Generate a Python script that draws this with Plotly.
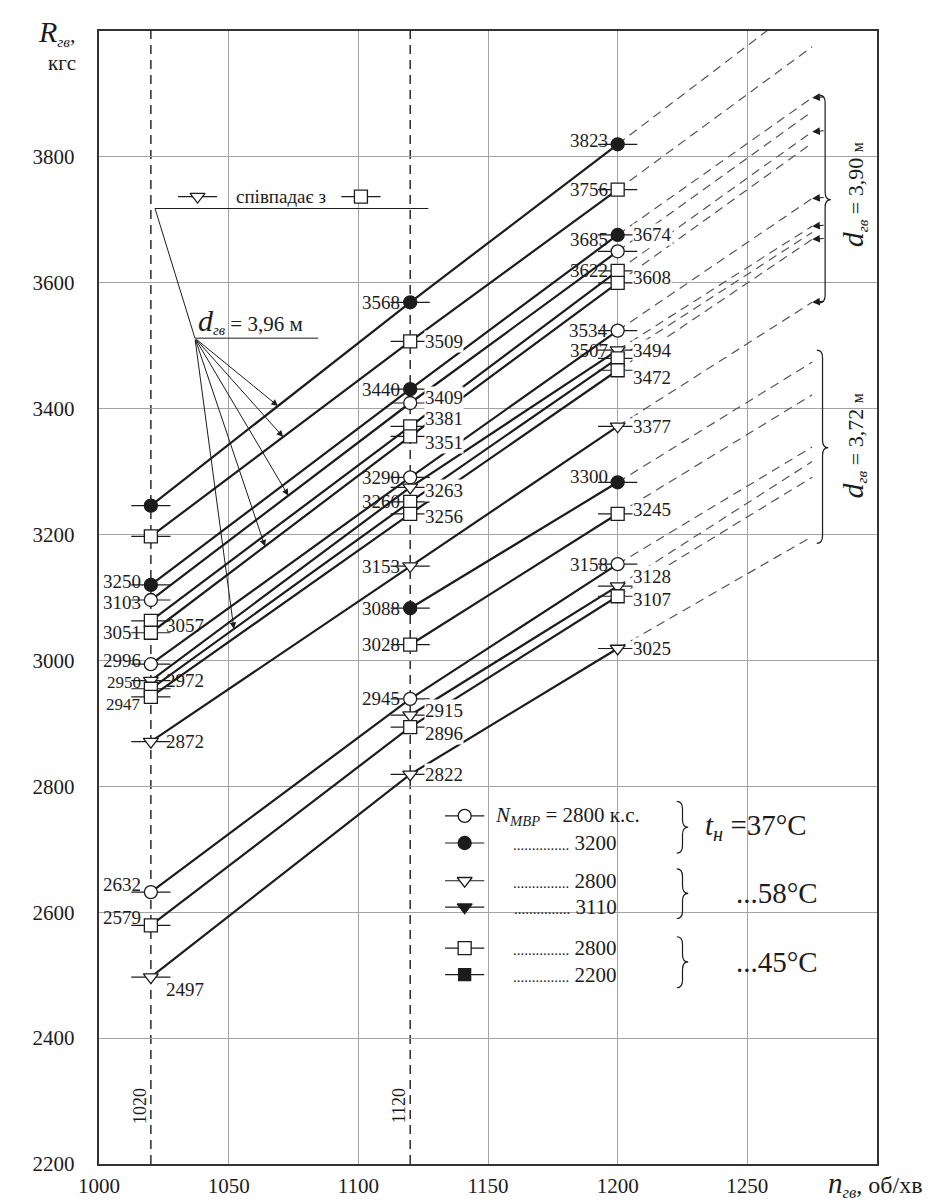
import plotly.graph_objects as go
import numpy as np

# ---------------- data ----------------
n_cols = [1020, 1120, 1200]          # rpm columns where points were measured
n_dash_end = 1275                     # end of the dashed extrapolations

# R values of each line at 1020 / 1120 / 1200 rpm (None = no point) and at dashed end
R_1020 = [3246, 3197, 3120, 3096, 3063, 3044, 2994, 2968, 2955, 2942, 2871, None, None, 2632, None, 2579, 2497]
R_1120 = [3569, 3507, 3431, 3409, 3372, 3356, 3291, 3275, 3252, 3233, 3150, 3083, 3025, 2939, 2913, 2894, 2819]
R_1200 = [3820, 3748, 3676, 3650, 3619, 3600, 3524, 3493, 3480, 3461, 3372, 3283, 3233, 3153, 3118, 3102, 3019]
R_end  = [4055, 3975, 3894, 3872, 3840, 3822, 3734, 3690, 3680, 3669, 3569, 3474, 3422, 3339, 3316, 3291, 3197]
kind   = ['fc', 'sq', 'fc', 'oc', 'sq', 'sq', 'oc', 'tr', 'sq', 'sq', 'tr', 'fc', 'sq', 'oc', 'tr', 'sq', 'tr']
group  = ['3.96', '3.96', '3.90', '3.96', '3.90', '3.96', '3.90', '3.90', '3.96', '3.90', '3.90',
          '3.72', '3.72', '3.72', '3.72', '3.72', '3.72']

lab_1020 = ['', '', '3250', '3103', '3057', '3051', '2996', '2972', '2950', '2947', '2872', '', '', '2632', '', '2579', '2497']
side_1020 = ['', '', 'L', 'L', 'R', 'L', 'L', 'R', 'L', 'L', 'R', '', '', 'L', '', 'L', 'R']
lab_1120 = ['3568', '3509', '3440', '3409', '3381', '3351', '3290', '3263', '3260', '3256', '3153', '3088', '3028',
            '2945', '2915', '2896', '2822']
side_1120 = ['L', 'R', 'L', 'R', 'R', 'R', 'L', 'R', 'L', 'R', 'L', 'L', 'L', 'L', 'R', 'R', 'R']
lab_1200 = ['3823', '3756', '3674', '3685', '3622', '3608', '3534', '3507', '3494', '3472', '3377', '3300', '3245',
            '3158', '3128', '3107', '3025']
side_1200 = ['L', 'L', 'R', 'L', 'L', 'R', 'L', 'L', 'R', 'R', 'R', 'L', 'R', 'L', 'R', 'R', 'R']

legend_kind = ['oc', 'fc', 'tr', 'ftr', 'sq', 'fsq']
legend_N = ['2800', '3200', '2800', '3110', '2800', '2200']
legend_t = ['37°C', '58°C', '45°C']

x_ticks = [1000, 1050, 1100, 1150, 1200, 1250]
y_ticks = [2200, 2400, 2600, 2800, 3000, 3200, 3400, 3600, 3800]

# ---------------- styling ----------------
SERIF = "Liberation Serif"
INK = "#1c1c1c"
LBL = 19

mstyle = {
    'oc': dict(symbol='circle', color='white', size=13, line=dict(color=INK, width=1.3)),
    'fc': dict(symbol='circle', color=INK, size=13, line=dict(color=INK, width=1.3)),
    'tr': dict(symbol='triangle-down', color='white', size=13, line=dict(color=INK, width=1.3)),
    'ftr': dict(symbol='triangle-down', color=INK, size=13, line=dict(color=INK, width=1.3)),
    'sq': dict(symbol='square', color='white', size=13, line=dict(color=INK, width=1.3)),
    'fsq': dict(symbol='square', color=INK, size=12, line=dict(color=INK, width=1.3)),
}

fig = go.Figure()

# solid lines
xs, ys = [], []
for i in range(len(R_1120)):
    for n, r in zip(n_cols, [R_1020[i], R_1120[i], R_1200[i]]):
        if r is not None:
            xs.append(n)
            ys.append(r)
    xs.append(None)
    ys.append(None)
fig.add_trace(go.Scatter(x=xs, y=ys, mode='lines', line=dict(color=INK, width=2.2),
                         hoverinfo='skip', showlegend=False))

# dashed extrapolations
xs, ys = [], []
for i in range(len(R_1200)):
    xs += [n_cols[2], n_dash_end, None]
    ys += [R_1200[i], R_end[i], None]
fig.add_trace(go.Scatter(x=xs, y=ys, mode='lines', line=dict(color='#555', width=1.2, dash='9px,6px'),
                         hoverinfo='skip', showlegend=False))

# markers with small horizontal ticks
pts = {k: ([], []) for k in mstyle}
tx, ty = [], []
for col, R in zip(n_cols, [R_1020, R_1120, R_1200]):
    for i, r in enumerate(R):
        if r is None:
            continue
        pts[kind[i]][0].append(col)
        pts[kind[i]][1].append(r)
        tx.append(col)
        ty.append(r)

# legend block points (inside plot)
leg_n = 1141
leg_R = [2753, 2710, 2650, 2608, 2543, 2501]
for k, r in zip(legend_kind, leg_R):
    pts[k][0].append(leg_n)
    pts[k][1].append(r)
    tx.append(leg_n)
    ty.append(r)
# "співпадає з" note symbols
note_R = 3737
for k, n in [('tr', 1038), ('sq', 1101)]:
    pts[k][0].append(n)
    pts[k][1].append(note_R)
    tx.append(n)
    ty.append(note_R)

fig.add_trace(go.Scatter(x=tx, y=ty, mode='markers', hoverinfo='skip', showlegend=False,
                         marker=dict(symbol='line-ew', size=28, line=dict(color=INK, width=1.2))))
for k, (px, py) in pts.items():
    if px:
        fig.add_trace(go.Scatter(x=px, y=py, mode='markers', hoverinfo='skip', showlegend=False,
                                 marker=mstyle[k]))

# value labels (small vertical nudges in px where the picture places a label off its point)
nudge = {(1200, '3685'): 12, (1200, '3494'): 8, (1200, '3472'): -7, (1200, '3128'): 10,
         (1200, '3107'): -3,
         (1200, '3300'): 6, (1200, '3608'): 5, (1200, '3823'): 4, (1200, '3245'): 4,
         (1120, '3409'): 6, (1120, '3381'): 8, (1120, '3351'): -6, (1120, '3263'): -3,
         (1120, '3256'): -3, (1120, '2915'): 5, (1120, '2896'): -6,
         (1020, '3250'): 3, (1020, '3103'): -2, (1020, '3057'): -5, (1020, '2996'): 4,
         (1020, '2950'): 6, (1020, '2947'): -8, (1020, '2632'): 8, (1020, '2579'): 8, (1020, '2497'): -12}
small = {(1020, '2950'), (1020, '2947')}
for col, R, labs, sides in [(1020, R_1020, lab_1020, side_1020), (1120, R_1120, lab_1120, side_1120),
                            (1200, R_1200, lab_1200, side_1200)]:
    for i, t in enumerate(labs):
        if not t:
            continue
        left = sides[i] == 'L'
        fig.add_annotation(x=col, y=R[i], text=t, showarrow=False,
                           xanchor='right' if left else 'left', yanchor='middle',
                           xshift=-9 if left else 14, yshift=nudge.get((col, t), 0),
                           font=dict(family=SERIF, size=17 if (col, t) in small else LBL, color=INK),
                           bgcolor=None if (left or col == 1020) else 'white', borderpad=0)

# arrowheads at dashed ends (d = 3,90 m)
for i in range(len(R_end)):
    if group[i] == '3.90':
        fig.add_annotation(x=n_dash_end, y=R_end[i], ax=13, ay=-1, text='', showarrow=True,
                           arrowhead=2, arrowsize=1.4, arrowwidth=1.1, arrowcolor=INK)


def brace(x, yt, yb, ym, w=2.2, h=12):
    return (f"M {x - w},{yt} Q {x},{yt} {x},{yt - h} L {x},{ym + h} "
            f"Q {x},{ym} {x + w},{ym} Q {x},{ym} {x},{ym - h} L {x},{yb + h} "
            f"Q {x},{yb} {x - w},{yb}")


shapes = []
for (x, yt, yb, ym) in [(1280, 3898, 3568, 3732), (1279, 3493, 3186, 3338),
                         (1225, 2776, 2694, 2735), (1225, 2669, 2590, 2630), (1225, 2561, 2480, 2521)]:
    shapes.append(dict(type='path', path=brace(x, yt, yb, ym), xref='x', yref='y',
                       line=dict(color=INK, width=1.2)))

# vertical dashed lines at 1020 and 1120
for xv in (1020, 1120):
    shapes.append(dict(type='line', x0=xv, x1=xv, y0=0, y1=1, xref='x', yref='paper',
                       line=dict(color=INK, width=1.4, dash='9px,6px'), layer='below'))

# note "співпадає з" + d = 3,96 m pointers
shapes.append(dict(type='line', x0=1021.6, x1=1127, y0=3718, y1=3718, xref='x', yref='y',
                   line=dict(color=INK, width=1)))
jn, jr = 1037, 3512
shapes.append(dict(type='line', x0=1021.6, x1=jn, y0=3718, y1=jr, xref='x', yref='y',
                   line=dict(color=INK, width=1)))
shapes.append(dict(type='line', x0=jn, x1=1084.5, y0=jr, y1=jr, xref='x', yref='y',
                   line=dict(color=INK, width=1)))
for idx, nt in [(0, 1069), (1, 1071), (3, 1073), (5, 1064), (8, 1052)]:
    rt = float(np.interp(nt, [1020, 1120], [R_1020[idx], R_1120[idx]]))
    fig.add_annotation(x=nt, y=rt, ax=jn, ay=jr, axref='x', ayref='y', text='', showarrow=True,
                       arrowhead=2, arrowsize=1.3, arrowwidth=1, arrowcolor=INK)

fig.add_annotation(x=1070, y=note_R, text='співпадає з', showarrow=False,
                   font=dict(family=SERIF, size=19, color=INK))
fig.add_annotation(x=1037.5, y=3540, xanchor='left',
                   text="<span style='font-size:30px'><i>d</i></span><sub><i>гв</i></sub> = 3,96 м",
                   showarrow=False, font=dict(family=SERIF, size=21, color=INK))

# rotated d labels
for yc, dv in [(3740, '3,90'), (3341, '3,72')]:
    fig.add_annotation(x=1291, y=yc, textangle=-90, showarrow=False,
                       text=f"<span style='font-size:30px'><i>d</i></span><sub><i>гв</i></sub> = {dv} "
                            f"<span style='font-size:16px'>м</span>",
                       font=dict(family=SERIF, size=22, color=INK))

# rotated column labels
for xv in (1020, 1120):
    fig.add_annotation(x=xv - 4, y=2293, text=str(xv), textangle=-90, showarrow=False,
                       font=dict(family=SERIF, size=18, color=INK))

# legend text
LEG = 21
fig.add_annotation(x=1152, y=leg_R[0], xanchor='left',
                   text=f"<i>N</i><sub><i>МВР</i></sub> = {legend_N[0]} к.с.", showarrow=False,
                   font=dict(family=SERIF, size=LEG, color=INK))
for r, v in zip(leg_R[1:], legend_N[1:]):
    fig.add_annotation(x=1200.5, y=r, xanchor='right', text=f"<span style='font-size:15px'>"
                       f"...............</span> {v}", showarrow=False,
                       font=dict(family=SERIF, size=LEG, color=INK))
TFS = 29
fig.add_annotation(x=1233, y=2735, xanchor='left',
                   text=f"<i>t</i><sub><i>н</i></sub> ={legend_t[0]}", showarrow=False,
                   font=dict(family=SERIF, size=TFS, color=INK))
fig.add_annotation(x=1278, y=2630, xanchor='right', text=f"...{legend_t[1]}", showarrow=False,
                   font=dict(family=SERIF, size=TFS, color=INK))
fig.add_annotation(x=1278, y=2521, xanchor='right', text=f"...{legend_t[2]}", showarrow=False,
                   font=dict(family=SERIF, size=TFS, color=INK))

# axis titles
fig.add_annotation(xref='paper', yref='paper', x=-0.027, y=0.999, xanchor='right', yanchor='middle',
                   text="<span style='font-size:30px'><i>R</i></span><sub><i>гв</i></sub>,", showarrow=False,
                   font=dict(family=SERIF, size=22, color=INK))
fig.add_annotation(xref='paper', yref='paper', x=-0.027, y=0.972, xanchor='right', yanchor='middle',
                   text="кгс", showarrow=False, font=dict(family=SERIF, size=21, color=INK))
fig.add_annotation(xref='paper', yref='paper', x=0.935, y=0, xanchor='left', yanchor='top', yshift=-1,
                   text="<span style='font-size:29px'><i>n</i></span><sub><i>гв</i></sub>, об/хв",
                   showarrow=False, font=dict(family=SERIF, size=24, color=INK))

axis_common = dict(showgrid=True, gridcolor='#a3a3a3', gridwidth=1.2, showline=True, mirror=True,
                   linecolor='#333', linewidth=2.4, ticks='', zeroline=False,
                   tickfont=dict(family=SERIF, size=21, color=INK))
fig.update_layout(
    width=945, height=1202,
    margin=dict(l=91, r=76, t=23, b=36),
    paper_bgcolor='white', plot_bgcolor='white',
    showlegend=False,
    shapes=shapes,
    xaxis=dict(range=[1000, 1300], tickvals=x_ticks, ticklabelstandoff=2, **axis_common),
    yaxis=dict(range=[2200, 4000], tickvals=y_ticks, ticklabelstandoff=18, **axis_common),
)

fig.write_html("out.html")
